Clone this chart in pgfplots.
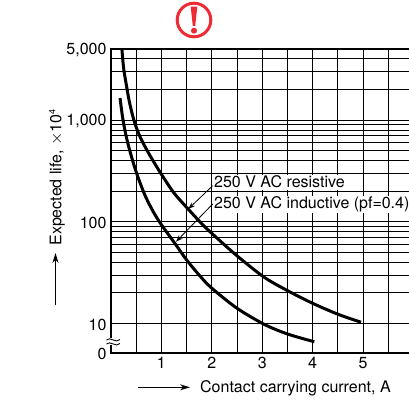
\documentclass[border=0pt]{standalone}
\usepackage{fontspec}
\setmainfont{TeX Gyre Heros}
\usepackage{pgfplots}
\pgfplotsset{compat=1.18}
\usetikzlibrary{arrows.meta}
\definecolor{warnred}{HTML}{EE2A32}
\begin{document}
\begin{tikzpicture}[x=1pt,y=1pt]
    \path[use as bounding box,clip] (0,0) rectangle (409,400);
    \begin{axis}[
        at={(111pt,47.5pt)},
        anchor=south west,
        scale only axis,
        width=302.4pt,
        height=303.5pt,
        ymode=log,
        xmin=0,xmax=6,
        ymin=5.19,ymax=5000,
        xtick={0,0.5,1,1.5,2,2.5,3,3.5,4,4.5,5,5.5,6},
        xticklabels={,,1,,2,,3,,4,,5,,},
        ytick={5.19,10,20,30,40,50,60,70,80,90,100,200,300,400,500,600,700,800,900,1000,2000,3000,4000,5000},
        yticklabels={0,10,,,,,,,,,100,,,,,,,,,{1,000},,,,{5,000}},
        minor tick num=0,
        log basis y=10,
        major tick length=0pt,
        grid=major,
        grid style={black,line width=0.9pt},
        axis line style={line width=2pt},
        font=\fontsize{16}{18}\selectfont,
        xticklabel style={yshift=-1pt},
        yticklabel style={xshift=-1pt,yshift=-1pt},
        xlabel={Contact carrying current, A},
        ylabel={Expected life, $\times$10\raisebox{6pt}{\fontsize{9}{9}\selectfont 4}},
        every axis x label/.style={at={(axis description cs:0.2943,-0.117)},anchor=west,inner sep=0pt},
        every axis y label/.style={at={(axis description cs:-0.1786,0.5766)},rotate=90,anchor=center,inner sep=0pt},
        ]
        % resistive
        \addplot[black,line width=3pt,smooth] coordinates {
            (0.216,5000)(0.250,3252)(0.298,2316)(0.361,1541)(0.442,1049)(0.528,781)
            (0.637,595)(0.802,424)(1.010,288)(1.250,192)(1.528,134)(1.806,95.1)
            (2.014,75.9)(2.494,46.6)(3.036,28.6)(3.506,21.0)(4.002,15.8)(4.510,12.3)(4.960,10.3)
        };
        % inductive
        \addplot[black,line width=3pt,smooth] coordinates {
            (0.179,1649)(0.232,1049)(0.296,714)(0.369,508)(0.506,302)(0.673,183)
            (0.841,125)(1.004,93.0)(1.262,61.9)(1.502,42.1)(1.766,29.3)(1.998,22.3)
            (2.494,14.2)(3.042,9.81)(3.506,7.88)(4.034,6.62)
        };
    \end{axis}
    % annotations, coordinates are picture pixels with y flipped
    \fill[white] (213,210) rectangle (345,225);
    \fill[white] (213,187) rectangle (409,204);
    \node[anchor=west,inner sep=0pt,font=\fontsize{16}{18}\selectfont] at (214,218) {250 V AC resistive};
    \node[anchor=west,inner sep=0pt,font=\fontsize{16}{18}\selectfont] at (214,196) {250 V AC inductive (pf=0.4)};
    \draw[line width=0.8pt,-{Stealth[length=7pt,width=5pt]}] (212.7,214.3) -- (188.3,191);
    \draw[line width=0.8pt,-{Stealth[length=7pt,width=5pt]}] (212.7,196) -- (176,158.3);
    % y axis break
    \fill[white] (108,55) rectangle (114,62.5);
    \draw[line width=0.9pt] (106.5,60) .. controls (110,64) and (116,56) .. (120,60.5);
    \draw[line width=0.9pt] (106.5,56) .. controls (110,60) and (116,52) .. (120,56.5);
    % direction arrows
    \draw[line width=1pt,-{Stealth[length=10pt,width=6pt]}] (55.5,95) -- (55.5,147);
    \draw[line width=1pt,-{Stealth[length=10pt,width=6pt]}] (138,12.7) -- (190,12.7);
    % warning sign
    \draw[warnred,line width=3pt] (194,380) circle (16.8);
    \fill[warnred] (190.7,393.3) -- (197.3,393.3) -- (195.2,374) -- (192.8,374) -- cycle;
    \fill[warnred] (194,369.3) circle (3);
\end{tikzpicture}
\end{document}
